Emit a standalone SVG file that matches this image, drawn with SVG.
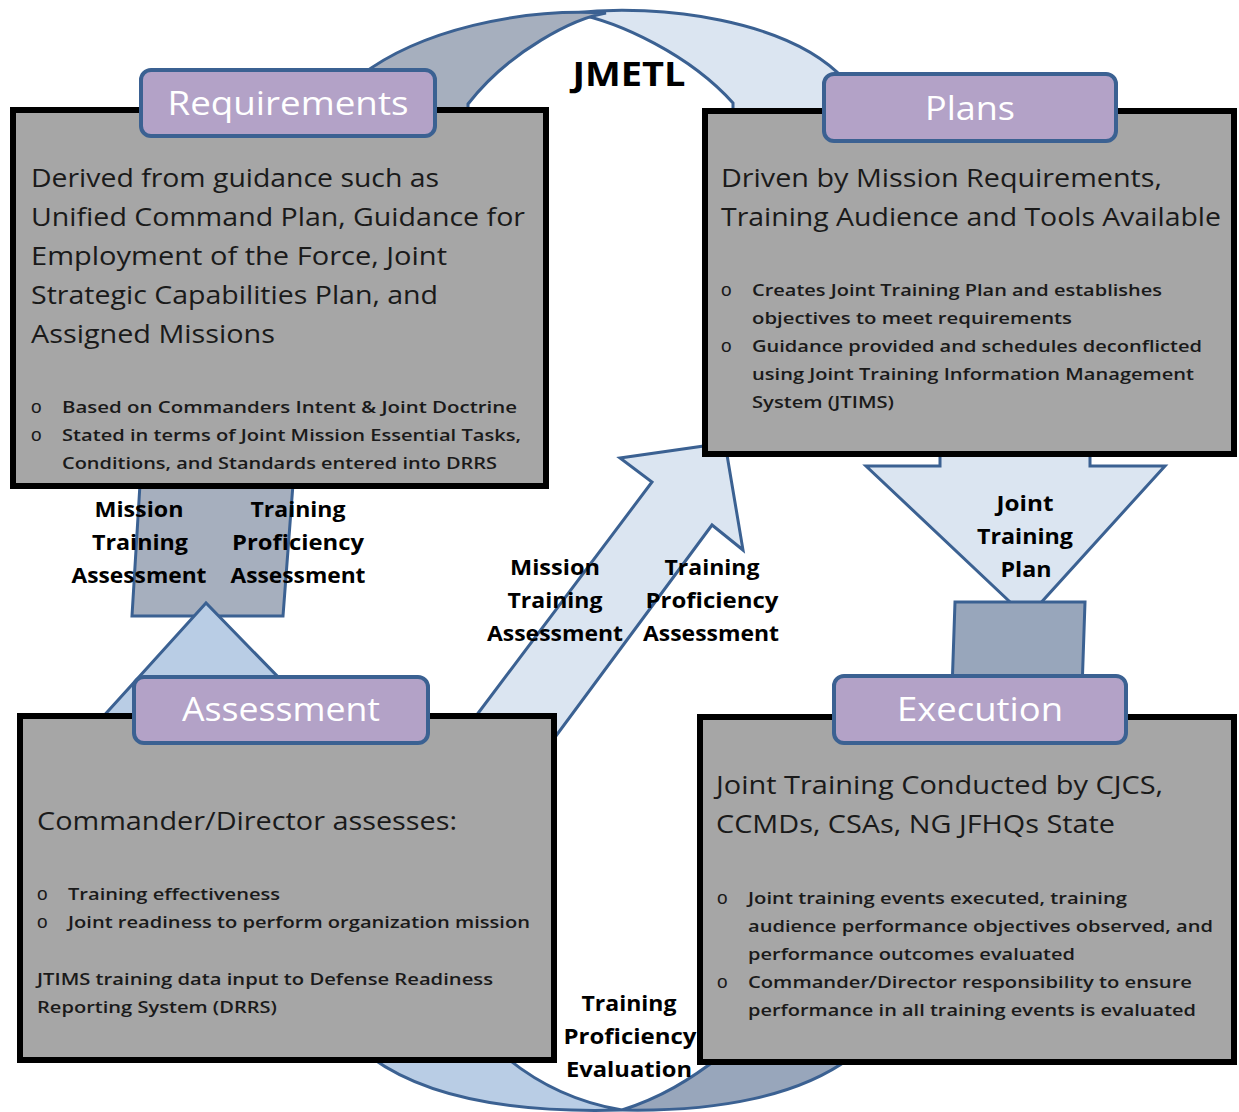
<svg xmlns="http://www.w3.org/2000/svg" width="1239" height="1112" viewBox="0 0 1239 1112">
<style>
.box{fill:#a6a6a6;stroke:#000;stroke-width:6}
.tab{fill:#b3a2c7;stroke:#3b6192;stroke-width:4}
.con{stroke:#3b6192;stroke-width:3;stroke-linejoin:miter}
.light{fill:#dbe5f1}
.lblue{fill:#b9cde5}
.gblue{fill:#a6afbe}
.dgblue{fill:#98a6bb}
.tabt{font-family:"Open Sans","Liberation Sans",sans-serif;font-size:33px;fill:#fff;text-anchor:middle}
.big{font-family:"Open Sans","Liberation Sans",sans-serif;font-size:26px;fill:#1a1a1a}
.sm{font-family:"Open Sans","Liberation Sans",sans-serif;font-size:17px;font-weight:600;fill:#1a1a1a}
.bul{font-family:"Liberation Sans",sans-serif;font-size:19px;fill:#1a1a1a}
.lbl{font-family:"Open Sans","Liberation Sans",sans-serif;font-size:22px;font-weight:bold;fill:#000;text-anchor:middle}
.title{font-family:"Open Sans","Liberation Sans",sans-serif;font-size:34px;font-weight:bold;fill:#000;text-anchor:middle}
</style>
<rect width="1239" height="1112" fill="#fff"/>
<g id="connectors">
  <path class="con light" d="M573,13 C660,3 790,20 845,80 L845,118 L733,118 L733,103 C690,55 620,22 573,13 Z"/>
  <path class="con gblue" d="M360,76 C420,30 520,8 606,13 C575,18 510,50 468,104 L468,118 L360,118 Z"/>
  <polygon class="con gblue" points="140,484 293,484 283,616 132,616"/>
  <polygon class="con lblue" points="206,603 100,720 320,720"/>
  <polygon class="con light" points="476,716 652,482 620,458 725,443 743,550 712,525 553,740"/>
  <polygon class="con light" points="866,466 940,466 940,450 1090,450 1090,466 1165,466 1027,618"/>
  <polygon class="con dgblue" points="955,602 1085,602 1082,690 952,690"/>
  <path class="con lblue" d="M372,1058 C430,1100 520,1113 622,1110 C580,1103 540,1085 507,1058 Z"/>
  <path class="con dgblue" d="M622,1110 C720,1112 800,1095 850,1058 L722,1055 C690,1080 660,1098 622,1110 Z"/>
</g>
<g id="requirements">
  <rect class="box" x="13" y="110" width="533" height="376"/>
  <rect class="tab" x="141" y="70" width="294" height="66" rx="10"/>
  <text class="tabt" x="288" y="115" textLength="241" lengthAdjust="spacingAndGlyphs">Requirements</text>
  <text class="big" x="31" y="187" textLength="408" lengthAdjust="spacingAndGlyphs">Derived from guidance such as</text>
  <text class="big" x="31" y="226" textLength="494" lengthAdjust="spacingAndGlyphs">Unified Command Plan, Guidance for</text>
  <text class="big" x="31" y="265" textLength="416" lengthAdjust="spacingAndGlyphs">Employment of the Force, Joint</text>
  <text class="big" x="31" y="304" textLength="407" lengthAdjust="spacingAndGlyphs">Strategic Capabilities  Plan, and</text>
  <text class="big" x="31" y="343" textLength="244" lengthAdjust="spacingAndGlyphs">Assigned Missions</text>
  <text class="bul" x="31" y="413">o</text>
  <text class="bul" x="31" y="441">o</text>
  <text class="sm" x="62" y="413" textLength="455" lengthAdjust="spacingAndGlyphs">Based on Commanders Intent  &amp; Joint Doctrine</text>
  <text class="sm" x="62" y="441" textLength="459" lengthAdjust="spacingAndGlyphs">Stated in terms of Joint Mission  Essential  Tasks,</text>
  <text class="sm" x="62" y="469" textLength="435" lengthAdjust="spacingAndGlyphs">Conditions,  and Standards  entered into DRRS</text>
</g>
<g id="plans">
  <rect class="box" x="705" y="111" width="529" height="343"/>
  <rect class="tab" x="824" y="74" width="292" height="67" rx="10"/>
  <text class="tabt" x="970" y="120" textLength="90" lengthAdjust="spacingAndGlyphs">Plans</text>
  <text class="big" x="721" y="187" textLength="441" lengthAdjust="spacingAndGlyphs">Driven by Mission Requirements,</text>
  <text class="big" x="721" y="226" textLength="500" lengthAdjust="spacingAndGlyphs">Training Audience and Tools Available</text>
  <text class="bul" x="721" y="296">o</text>
  <text class="bul" x="721" y="352">o</text>
  <text class="sm" x="752" y="296" textLength="410" lengthAdjust="spacingAndGlyphs">Creates Joint  Training  Plan and establishes</text>
  <text class="sm" x="752" y="324" textLength="320" lengthAdjust="spacingAndGlyphs">objectives to meet requirements</text>
  <text class="sm" x="752" y="352" textLength="450" lengthAdjust="spacingAndGlyphs">Guidance  provided  and schedules  deconflicted</text>
  <text class="sm" x="752" y="380" textLength="442" lengthAdjust="spacingAndGlyphs">using Joint  Training  Information  Management</text>
  <text class="sm" x="752" y="408" textLength="142" lengthAdjust="spacingAndGlyphs">System (JTIMS)</text>
</g>
<g id="assessment">
  <rect class="box" x="20" y="716" width="534" height="344"/>
  <rect class="tab" x="134" y="677" width="294" height="66" rx="10"/>
  <text class="tabt" x="281" y="721" textLength="198" lengthAdjust="spacingAndGlyphs">Assessment</text>
  <text class="big" x="37" y="830" textLength="420" lengthAdjust="spacingAndGlyphs">Commander/Director assesses:</text>
  <text class="bul" x="37" y="900">o</text>
  <text class="bul" x="37" y="928">o</text>
  <text class="sm" x="68" y="900" textLength="212" lengthAdjust="spacingAndGlyphs">Training  effectiveness</text>
  <text class="sm" x="68" y="928" textLength="462" lengthAdjust="spacingAndGlyphs">Joint  readiness to perform organization  mission</text>
  <text class="sm" x="37" y="985" textLength="456" lengthAdjust="spacingAndGlyphs">JTIMS  training  data input  to Defense Readiness</text>
  <text class="sm" x="37" y="1013" textLength="240" lengthAdjust="spacingAndGlyphs">Reporting System (DRRS)</text>
</g>
<g id="execution">
  <rect class="box" x="700" y="717" width="534" height="345"/>
  <rect class="tab" x="834" y="676" width="292" height="67" rx="10"/>
  <text class="tabt" x="980" y="721" textLength="166" lengthAdjust="spacingAndGlyphs">Execution</text>
  <text class="big" x="716" y="794" textLength="447" lengthAdjust="spacingAndGlyphs">Joint Training Conducted by CJCS,</text>
  <text class="big" x="716" y="833" textLength="399" lengthAdjust="spacingAndGlyphs">CCMDs, CSAs, NG JFHQs State</text>
  <text class="bul" x="717" y="904">o</text>
  <text class="bul" x="717" y="988">o</text>
  <text class="sm" x="748" y="904" textLength="379" lengthAdjust="spacingAndGlyphs">Joint  training  events executed, training</text>
  <text class="sm" x="748" y="932" textLength="465" lengthAdjust="spacingAndGlyphs">audience  performance objectives observed, and</text>
  <text class="sm" x="748" y="960" textLength="327" lengthAdjust="spacingAndGlyphs">performance outcomes evaluated</text>
  <text class="sm" x="748" y="988" textLength="444" lengthAdjust="spacingAndGlyphs">Commander/Director responsibility  to ensure</text>
  <text class="sm" x="748" y="1016" textLength="448" lengthAdjust="spacingAndGlyphs">performance in all  training  events is evaluated</text>
</g>
<g id="labels">
  <text class="title" x="629" y="86" textLength="113" lengthAdjust="spacingAndGlyphs">JMETL</text>
  <text class="lbl" x="139" y="517" textLength="89" lengthAdjust="spacingAndGlyphs">Mission</text>
  <text class="lbl" x="140" y="550" textLength="96" lengthAdjust="spacingAndGlyphs">Training</text>
  <text class="lbl" x="139" y="583" textLength="135" lengthAdjust="spacingAndGlyphs">Assessment</text>
  <text class="lbl" x="298" y="517" textLength="95" lengthAdjust="spacingAndGlyphs">Training</text>
  <text class="lbl" x="298" y="550" textLength="132" lengthAdjust="spacingAndGlyphs">Proficiency</text>
  <text class="lbl" x="298" y="583" textLength="135" lengthAdjust="spacingAndGlyphs">Assessment</text>
  <text class="lbl" x="555" y="575" textLength="90" lengthAdjust="spacingAndGlyphs">Mission</text>
  <text class="lbl" x="555" y="608" textLength="95" lengthAdjust="spacingAndGlyphs">Training</text>
  <text class="lbl" x="555" y="641" textLength="136" lengthAdjust="spacingAndGlyphs">Assessment</text>
  <text class="lbl" x="712" y="575" textLength="95" lengthAdjust="spacingAndGlyphs">Training</text>
  <text class="lbl" x="712" y="608" textLength="133" lengthAdjust="spacingAndGlyphs">Proficiency</text>
  <text class="lbl" x="711" y="641" textLength="136" lengthAdjust="spacingAndGlyphs">Assessment</text>
  <text class="lbl" x="1025" y="511" textLength="57" lengthAdjust="spacingAndGlyphs">Joint</text>
  <text class="lbl" x="1025" y="544" textLength="96" lengthAdjust="spacingAndGlyphs">Training</text>
  <text class="lbl" x="1026" y="577" textLength="51" lengthAdjust="spacingAndGlyphs">Plan</text>
  <text class="lbl" x="629" y="1011" textLength="95" lengthAdjust="spacingAndGlyphs">Training</text>
  <text class="lbl" x="630" y="1044" textLength="133" lengthAdjust="spacingAndGlyphs">Proficiency</text>
  <text class="lbl" x="629" y="1077" textLength="126" lengthAdjust="spacingAndGlyphs">Evaluation</text>
</g>
</svg>
